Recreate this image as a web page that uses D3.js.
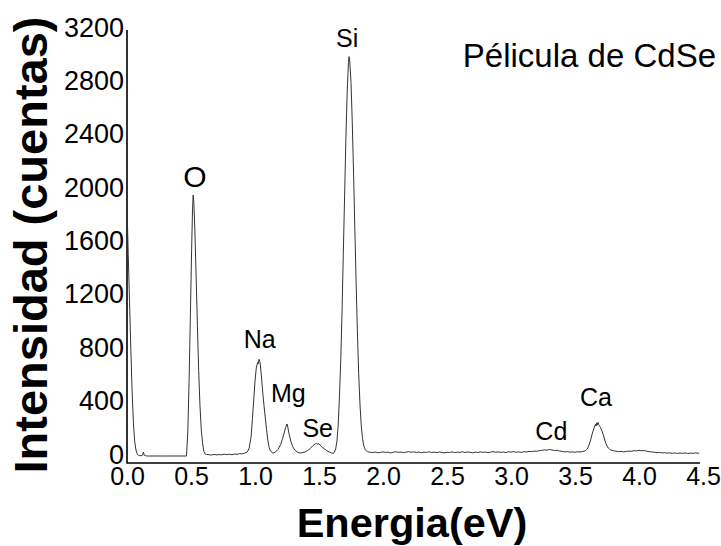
<!DOCTYPE html>
<html>
<head>
<meta charset="utf-8">
<script src="https://cdn.jsdelivr.net/npm/d3@7"></script>
<style>
  body { margin: 0; background: #fff; }
  svg { font-family: Arial, "Liberation Sans", sans-serif; }
  .axis .domain { display: none; }
  .axis text { fill: #000; }
  .y.axis text { font-size: 27px; }
  .x.axis text { font-size: 25px; }
</style>
</head>
<body>
<svg width="721" height="546"></svg>
<script>
// EDS spectrum: energy (eV) and counts
var energy = [
  0.00, 0.01, 0.02, 0.03, 0.04, 0.05, 0.06, 0.07, 0.08, 0.09, 0.10, 0.11, 0.12, 0.128, 0.135, 0.145, 0.16,
  0.30, 0.465,
  0.475, 0.485, 0.495, 0.505, 0.512, 0.517, 0.522, 0.53, 0.54, 0.55, 0.56, 0.57, 0.58, 0.59, 0.60, 0.61, 0.62,
  0.64, 0.66, 0.68, 0.70, 0.72, 0.74, 0.76, 0.78, 0.80, 0.82, 0.84, 0.86, 0.88, 0.90, 0.92,
  0.94, 0.955, 0.97, 0.98, 0.99, 1.00, 1.01, 1.02, 1.025, 1.032, 1.04, 1.05, 1.06, 1.07, 1.08, 1.09, 1.10, 1.11, 1.12, 1.13,
  1.14, 1.16, 1.18, 1.20, 1.215, 1.23, 1.24, 1.25, 1.255, 1.265, 1.28, 1.295, 1.31, 1.33, 1.35,
  1.37, 1.39, 1.41, 1.43, 1.45, 1.47, 1.48, 1.49, 1.50, 1.52, 1.54, 1.56, 1.58, 1.60, 1.615,
  1.63, 1.64, 1.65, 1.66, 1.67, 1.68, 1.69, 1.70, 1.71, 1.72, 1.73, 1.735, 1.74, 1.75, 1.76, 1.77, 1.78, 1.79,
  1.80, 1.81, 1.82, 1.83, 1.84, 1.85, 1.86, 1.87, 1.88,
  1.90, 1.92, 1.94, 1.96, 1.98, 2.00, 2.02, 2.04, 2.06, 2.08, 2.10, 2.12, 2.14, 2.16, 2.18, 2.20, 2.22, 2.24, 2.26, 2.28,
  2.30, 2.32, 2.34, 2.36, 2.38, 2.40, 2.42, 2.44, 2.46, 2.48, 2.50, 2.52, 2.54, 2.56, 2.58, 2.60, 2.62, 2.64, 2.66, 2.68,
  2.70, 2.72, 2.74, 2.76, 2.78, 2.80, 2.82, 2.84, 2.86, 2.88, 2.90, 2.92, 2.94, 2.96, 2.98, 3.00, 3.02, 3.04, 3.06, 3.08,
  3.10, 3.12, 3.14, 3.16, 3.18, 3.20, 3.22, 3.24, 3.26, 3.28, 3.30, 3.32, 3.34, 3.36, 3.38, 3.40, 3.42, 3.44, 3.46, 3.48,
  3.50, 3.52, 3.54, 3.56, 3.58, 3.59, 3.60, 3.61, 3.62, 3.63, 3.64, 3.65, 3.66, 3.665, 3.67, 3.675, 3.68, 3.685, 3.69,
  3.70, 3.71, 3.72, 3.73, 3.74, 3.75, 3.76, 3.77, 3.78, 3.80, 3.82,
  3.84, 3.86, 3.88, 3.90, 3.92, 3.94, 3.96, 3.98, 4.00, 4.02, 4.04, 4.06, 4.08, 4.10, 4.12, 4.14, 4.16, 4.18, 4.20,
  4.22, 4.24, 4.26, 4.28, 4.30, 4.32, 4.34, 4.36, 4.38, 4.40, 4.42, 4.44, 4.46, 4.47
];
var counts = [
  1870, 1500, 1150, 800, 480, 250, 110, 45, 15, 5, 3, 2, 5, 30, 5, 2, 0,
  0, 0,
  180, 560, 1050, 1550, 1850, 1956, 1900, 1700, 1350, 980, 640, 380, 200, 100, 35, 15, 12,
  10, 7, 12, 8, 11, 9, 14, 10, 13, 9, 15, 12, 18, 16, 22,
  30, 60, 150, 280, 420, 560, 660, 700, 690, 725, 700, 600, 480, 380, 290, 200, 120, 65, 40, 28,
  22, 30, 50, 85, 130, 180, 215, 240, 225, 170, 110, 70, 45, 30, 22,
  25, 30, 40, 55, 75, 90, 95, 88, 92, 70, 55, 40, 30, 22, 20,
  50, 110, 230, 450, 720, 1080, 1520, 1950, 2380, 2720, 2950, 2993, 2960, 2800, 2500, 2120, 1700, 1300,
  930, 620, 390, 230, 130, 75, 50, 38, 32,
  28, 25, 30, 24, 27, 31, 26, 29, 23, 28, 32, 27, 30, 25, 29, 33, 28, 31, 26, 30,
  24, 29, 27, 32, 26, 29, 25, 30, 27, 24, 28, 26, 31, 25, 29, 27, 32, 26, 30, 28,
  24, 29, 26, 31, 27, 30, 25, 29, 33, 28, 31, 27, 30, 26, 32, 29, 33, 28, 31, 27,
  32, 30, 34, 33, 37, 35, 40, 42, 46, 44, 49, 45, 41, 43, 37, 35, 31, 33, 29, 31,
  28, 32, 30, 34, 38, 48, 60, 85, 112, 150, 185, 212, 238, 225, 248, 232, 252, 236, 228,
  212, 190, 162, 128, 98, 75, 60, 52, 45, 40, 36,
  33, 35, 31, 34, 37, 35, 40, 38, 43, 39, 41, 36, 33, 30, 28, 25, 27, 23, 25,
  21, 24, 20, 23, 19, 22, 20, 23, 19, 22, 20, 23, 21, 20
];

var xTicks = [0, 0.5, 1.0, 1.5, 2.0, 2.5, 3.0, 3.5, 4.0, 4.5];
var yTicks = [0, 400, 800, 1200, 1600, 2000, 2400, 2800, 3200];

// element labels: name, energy, counts (where the text baseline sits)
var peakNames = ["O", "Na", "Mg", "Se", "Si", "Cd", "Ca"];
var peakEnergy = [0.53, 1.037, 1.26, 1.49, 1.72, 3.315, 3.664];
var peakCounts = [2016, 807, 407, 145, 3066, 120, 375];

var svg = d3.select("svg");

var x = d3.scaleLinear().domain([0, 4.5]).range([127, 703]);
var y = d3.scaleLinear().domain([0, 3200]).range([456, 29]);

// frame (left + bottom)
svg.append("path")
  .attr("d", "M127,30V463H700")
  .attr("fill", "none")
  .attr("stroke", "#000")
  .attr("stroke-width", 1.6);

svg.append("g")
  .attr("class", "x axis")
  .attr("transform", "translate(0,463)")
  .call(d3.axisBottom(x).tickValues(xTicks).tickSize(0).tickPadding(4).tickFormat(d3.format(".1f")));

svg.append("g")
  .attr("class", "y axis")
  .attr("transform", "translate(127,0)")
  .call(d3.axisLeft(y).tickValues(yTicks).tickSize(0).tickPadding(3).tickFormat(d3.format("d")))
  .selectAll("text")
  .attr("dy", "0.26em");

var line = d3.line()
  .x(function(d, i) { return x(energy[i]); })
  .y(function(d) { return y(d); });

svg.append("path")
  .datum(counts)
  .attr("d", line)
  .attr("fill", "none")
  .attr("stroke", "#333")
  .attr("stroke-width", 1);

svg.selectAll("text.peak")
  .data(peakNames)
  .enter()
  .append("text")
  .attr("class", "peak")
  .attr("x", function(d, i) { return x(peakEnergy[i]); })
  .attr("y", function(d, i) { return y(peakCounts[i]); })
  .attr("text-anchor", "middle")
  .attr("font-size", function(d) { return d == "O" ? 30 : 25; })
  .text(function(d) { return d; });

svg.append("text")
  .attr("x", 716)
  .attr("y", 67)
  .attr("text-anchor", "end")
  .attr("font-size", 33)
  .text("Pélicula de CdSe");

// axis titles
svg.append("text")
  .attr("transform", "translate(47,245) rotate(-90)")
  .attr("text-anchor", "middle")
  .attr("font-size", 47)
  .attr("font-weight", "bold")
  .text("Intensidad (cuentas)");

svg.append("text")
  .attr("x", 412)
  .attr("y", 537)
  .attr("text-anchor", "middle")
  .attr("font-size", 41.5)
  .attr("font-weight", "bold")
  .text("Energia(eV)");
</script>
</body>
</html>
